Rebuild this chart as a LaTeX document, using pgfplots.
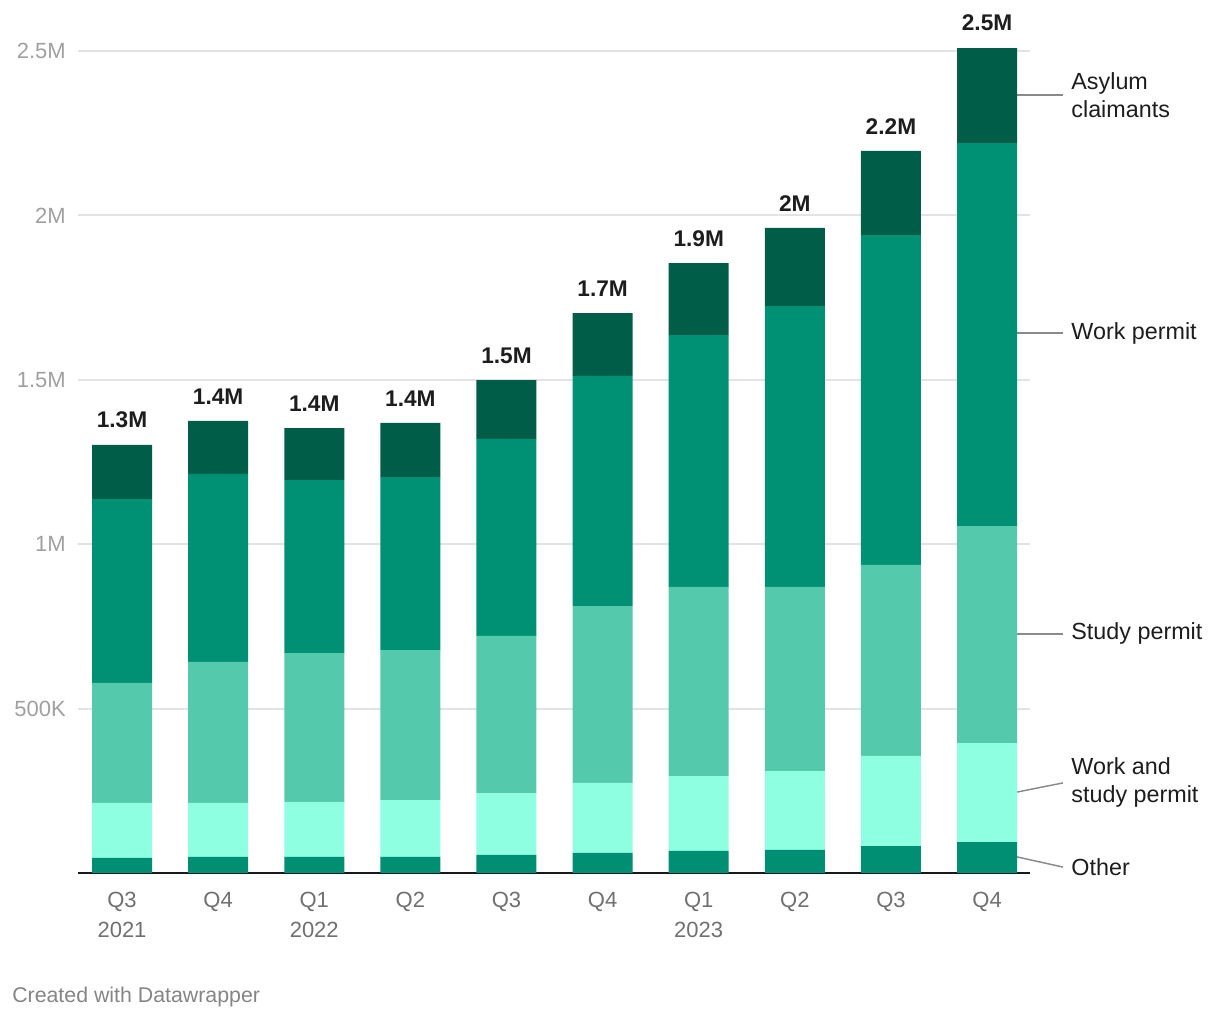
\documentclass[border=0pt]{standalone}
\usepackage{pgfplots}
\pgfplotsset{compat=1.18}
\usepackage{pgfplotstable}
\usepackage{fontspec}
\setmainfont{Liberation Sans}
\definecolor{asy}{HTML}{005E48}
\definecolor{workc}{HTML}{009073}
\definecolor{studyc}{HTML}{55C9AC}
\definecolor{wsc}{HTML}{8FFFE1}
\definecolor{othc}{HTML}{008F73}
\definecolor{gridc}{HTML}{E3E3E3}
\definecolor{ytk}{HTML}{A0A0A0}
\definecolor{xtk}{HTML}{707070}
\definecolor{lab}{HTML}{1D1D1D}
\definecolor{lead}{HTML}{8A8A8A}

\pgfplotstableread{
x y
0 46
1 49
2 49
3 49
4 55
5 61
6 67
7 70
8 82
9 94
}\tabOther
\pgfplotstableread{
x y
0 167
1 164
2 167
3 173
4 188
5 213
6 228
7 240
8 274
9 301
}\tabWS
\pgfplotstableread{
x y
0 365
1 429
2 453
3 456
4 478
5 538
6 575
7 560
8 581
9 660
}\tabStudy
\pgfplotstableread{
x y
0 559
1 572
2 526
3 526
4 599
5 700
6 766
7 854
8 1003
9 1165
}\tabWork
\pgfplotstableread{
x y
0 165
1 161
2 158
3 165
4 179
5 191
6 219
7 238
8 256
9 289
}\tabAsylum
\pgfplotstableread{
x y label
0 1 1.3M
1 1 1.4M
2 1 1.4M
3 1 1.4M
4 1 1.5M
5 1 1.7M
6 1 1.9M
7 1 2M
8 1 2.2M
9 1 2.5M
}\tabTotal

\begin{document}
\begin{tikzpicture}
\path[use as bounding box] (0,0) rectangle (915pt,765pt);
\begin{axis}[
  at={(58.5pt,110.25pt)}, anchor=south west,
  scale only axis, width=714pt, height=616.5pt,
  xmin=-0.458, xmax=9.447, ymin=0, ymax=2500,
  clip=false,
  ybar stacked, bar width=45pt,
  axis x line=bottom, axis y line=left,
  x axis line style={-, black!90, line width=1.6pt},
  y axis line style={draw=none},
  major tick length=0pt,
  ymajorgrids, grid style={gridc, line width=1.4pt},
  ytick={500,1000,1500,2000,2500},
  yticklabels={500K,1M,1.5M,2M,2.5M},
  yticklabel style={ytk, font=\fontsize{16.5}{19}\selectfont, inner sep=0pt, xshift=-9pt, anchor=east},
  xtick={0,...,9},
  xticklabels={{Q3\\2021},Q4,{Q1\\2022},Q2,Q3,Q4,{Q1\\2023},Q2,Q3,Q4},
  xticklabel style={xtk, font=\fontsize{16.5}{22.5}\selectfont, align=center, anchor=north, inner sep=0pt, yshift=-14pt},
]
\addplot[draw=none, fill=othc] table[x=x,y=y] {\tabOther};
\addplot[draw=none, fill=wsc] table[x=x,y=y] {\tabWS};
\addplot[draw=none, fill=studyc] table[x=x,y=y] {\tabStudy};
\addplot[draw=none, fill=workc] table[x=x,y=y] {\tabWork};
\addplot[draw=none, fill=asy] table[x=x,y=y] {\tabAsylum};
\addplot[draw=none, fill=none, nodes near coords, point meta=explicit symbolic,
  every node near coord/.append style={anchor=south, inner sep=0pt, yshift=12.3pt, text=lab, font=\fontsize{17}{20}\selectfont\bfseries}]
  table[x=x,y=y,meta=label] {\tabTotal};

\draw[lead, line width=1.1pt] (axis cs:9.31,2366) -- (axis cs:9.79,2366);
\draw[lead, line width=1.1pt] (axis cs:9.31,1642) -- (axis cs:9.79,1642);
\draw[lead, line width=1.1pt] (axis cs:9.31,727) -- (axis cs:9.79,727);
\draw[lead, line width=1.1pt] (axis cs:9.31,246) -- (axis cs:9.79,274);
\draw[lead, line width=1.1pt] (axis cs:9.31,49) -- (axis cs:9.79,18);
\node[anchor=west, align=left, inner sep=0pt, text=lab, font=\fontsize{17.5}{21}\selectfont] at (axis cs:9.875,2366) {Asylum\\claimants};
\node[anchor=west, align=left, inner sep=0pt, text=lab, font=\fontsize{17.5}{21}\selectfont] at (axis cs:9.875,1642) {Work permit};
\node[anchor=west, align=left, inner sep=0pt, text=lab, font=\fontsize{17.5}{21}\selectfont] at (axis cs:9.875,727) {Study permit};
\node[anchor=west, align=left, inner sep=0pt, text=lab, font=\fontsize{17.5}{21}\selectfont] at (axis cs:9.875,274) {Work and\\study permit};
\node[anchor=west, align=left, inner sep=0pt, text=lab, font=\fontsize{17.5}{21}\selectfont] at (axis cs:9.875,18) {Other};
\end{axis}
\node[anchor=west, inner sep=0pt, text=xtk!85, font=\fontsize{16}{18}\selectfont] at (9pt,17.25pt) {Created with Datawrapper};
\end{tikzpicture}
\end{document}
